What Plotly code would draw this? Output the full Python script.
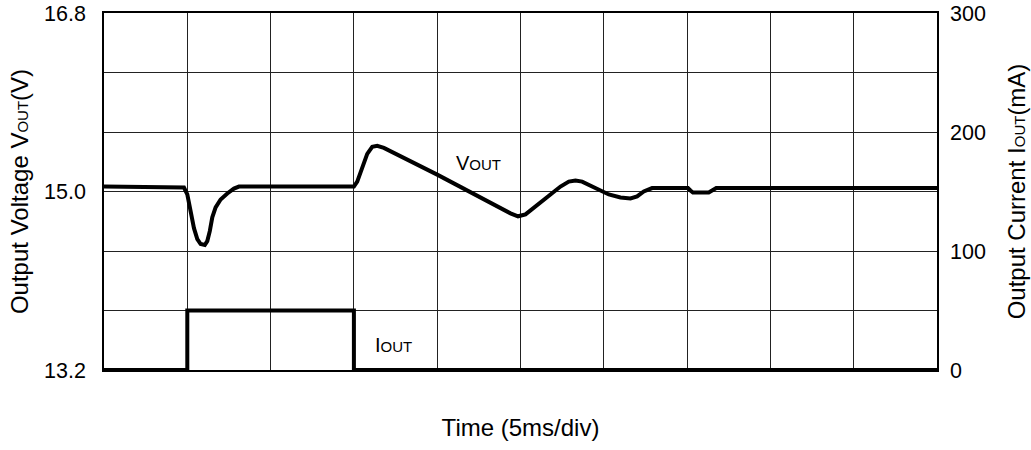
import plotly.graph_objects as go

# ── data ──────────────────────────────────────────────────────────────────────
# time in ms (5 ms/div, 10 divisions)
vout_t = [0, 4.6, 4.8, 5.0, 5.2, 5.4, 5.6, 5.8, 6.05, 6.2, 6.35, 6.5, 6.7, 7.0,
          7.4, 7.8, 8.1, 15.0, 15.2, 15.5, 15.8, 16.1, 16.4, 16.8, 20.0, 24.4,
          24.85, 25.3, 26.0, 26.8, 27.4, 27.9, 28.3, 28.7, 29.5, 30.3, 31.0,
          31.6, 32.0, 32.4, 32.9, 35.05, 35.2, 35.35, 36.3, 36.5, 36.75, 50.0]
vout_v = [15.05, 15.05, 15.04, 14.97, 14.80, 14.63, 14.52, 14.47, 14.46, 14.50,
          14.60, 14.74, 14.84, 14.92, 14.98, 15.03, 15.05, 15.05, 15.10, 15.25,
          15.38, 15.45, 15.46, 15.44, 15.17, 14.78, 14.75, 14.77, 14.86, 14.97,
          15.05, 15.10, 15.11, 15.10, 15.03, 14.97, 14.94, 14.93, 14.95, 15.00,
          15.035, 15.035, 15.01, 14.99, 14.99, 15.01, 15.035, 15.035]

iout_t = [0, 5, 5, 15, 15, 50]
iout_ma = [0, 0, 50, 50, 0, 0]

v_ticks = [13.2, 13.8, 14.4, 15.0, 15.6, 16.2, 16.8]
v_ticktext = ["13.2", "", "", "15.0", "", "", "16.8"]
i_ticks = [0, 100, 200, 300]

FONT = "Arial, Liberation Sans, sans-serif"
SUB = "<span style='font-size:15px'>{}</span>"

fig = go.Figure()
fig.add_trace(go.Scatter(x=vout_t, y=vout_v, mode="lines",
                         line=dict(color="black", width=4), showlegend=False))
fig.add_trace(go.Scatter(x=iout_t, y=iout_ma, mode="lines", yaxis="y2",
                         line=dict(color="black", width=4), showlegend=False))

fig.add_annotation(x=22.45, y=15.29, text="V" + SUB.format("OUT"), showarrow=False,
                   font=dict(size=20, color="black"))
fig.add_annotation(x=17.4, y=21, yref="y2", text="I" + SUB.format("OUT"), showarrow=False,
                   font=dict(size=20, color="black"))

fig.update_layout(
    width=1031, height=450,
    margin=dict(l=104, r=94, t=13, b=80),
    paper_bgcolor="white", plot_bgcolor="white",
    font=dict(family=FONT, size=20, color="black"),
    xaxis=dict(range=[0, 50], dtick=5, showticklabels=False, automargin=False,
               showgrid=True, gridcolor="#222", gridwidth=1, zeroline=False,
               showline=True, linecolor="black", linewidth=1.5, mirror=True,
               title=dict(text="Time (5ms/div)", standoff=48)),
    yaxis=dict(range=[13.2, 16.8], tickvals=v_ticks, ticktext=v_ticktext,
               automargin=False, tickfont=dict(size=21.5),
               showgrid=True, gridcolor="#222", gridwidth=1, zeroline=False,
               showline=True, linecolor="black", linewidth=1.5, mirror=True,
               ticklabelstandoff=12,
               title=dict(text="Output Voltage V" + SUB.format("OUT") + "(V)", standoff=9)),
    yaxis2=dict(range=[0, 300], tickvals=i_ticks, overlaying="y", side="right",
                automargin=False, tickfont=dict(size=21.5),
                showgrid=False, zeroline=False, ticklabelstandoff=12,
                title=dict(text="Output Current I" + SUB.format("OUT") + "(mA)", standoff=23)),
)

# drop the default page margin so the figure sits at the window's corner
fig.write_html("out.html", config={"displayModeBar": False},
               post_script="document.body.style.margin='0';")
